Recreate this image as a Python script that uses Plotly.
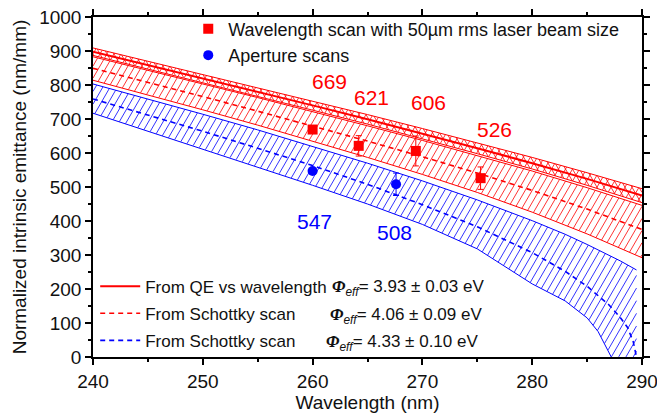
import numpy as np
import plotly.graph_objects as go

# ---------------- data ----------------
LAM_RED = [240, 245, 250, 255, 260, 265, 270, 275, 280, 285, 290]
RED_QE = [898, 859, 820, 780, 740, 699, 657, 614, 570, 524, 475]
RED_QE_HI = [909, 870, 831, 792, 753, 713, 672, 630, 587, 542, 495]
RED_QE_LO = [887, 847, 808, 767, 726, 685, 642, 598, 553, 505, 454]
RED_SCH = [849, 808, 766, 723, 680, 635, 589, 541, 490, 435, 375]
RED_SCH_HI = [883, 844, 803, 763, 722, 680, 637, 593, 547, 498, 446]
RED_SCH_LO = [814, 771, 727, 682, 635, 587, 537, 484, 426, 362, 292]

LAM_BLUE_C = [240, 245, 250, 255, 260, 265, 270, 275, 280, 283, 285, 287, 288, 288.7, 289.2, 289.5]
BLUE_SCH = [759, 712, 664, 614, 563, 508, 448, 383, 307, 252, 208, 153, 117, 86, 45, 0]
LAM_BLUE_HI = [240, 245, 250, 255, 260, 265, 270, 275, 280, 283, 285, 287, 288, 289, 289.5]
BLUE_SCH_HI = [803, 759, 714, 668, 620, 570, 518, 462, 401, 361, 331, 300, 283, 265, 256]
LAM_BLUE_LO = [240, 245, 250, 255, 260, 265, 270, 275, 280, 283, 285, 286, 287, 287.2]
BLUE_SCH_LO = [717, 664, 612, 559, 505, 450, 390, 318, 215, 165, 115, 75, 15, 0]

WL_SCAN_X = [260.0, 264.2, 269.4, 275.3]
WL_SCAN_Y = [669, 621, 606, 526]
WL_SCAN_ERR = [5, 30, 44, 33]
AP_SCAN_X = [260.0, 267.6]
AP_SCAN_Y = [547, 508]
AP_SCAN_ERR = [5, 33]

RED_LABELS = ["669", "621", "606", "526"]
RED_LABEL_X = [261.5, 265.4, 270.6, 276.6]
RED_LABEL_Y = [811, 763, 750, 668]
BLUE_LABELS = ["547", "508"]
BLUE_LABEL_X = [260.2, 267.5]
BLUE_LABEL_Y = [398, 366]

PHI_TEXT = ["= 3.93 ± 0.03 eV", "= 4.06 ± 0.09 eV", "= 4.33 ± 0.10 eV"]

X_TICKS = [240, 250, 260, 270, 280, 290]
Y_TICKS = [0, 100, 200, 300, 400, 500, 600, 700, 800, 900, 1000]

# ---------------- layout geometry ----------------
W, H = 657, 417
ML, MR, MT, MB = 93, 15, 17, 60
X0, X1 = 240, 290
Y0, Y1 = 0, 1000
PX_X = (W - ML - MR) / (X1 - X0)
PX_Y = (H - MT - MB) / (Y1 - Y0)

RED = "#ff0000"
BLUE = "#0000ff"
FONT = "Liberation Sans, Arial, Helvetica, sans-serif"


def hatch(lu, up, ll, lo, angle, spacing, lam_end):
    g = np.linspace(X0, lam_end, 4000)
    u = (g - X0) * PX_X
    vu = np.interp(g, lu, up) * PX_Y
    vl = np.interp(g, ll, lo) * PX_Y
    m = np.tan(np.radians(angle))
    step = abs(m) * spacing
    cmin = np.min(vl - m * u)
    cmax = np.max(vu - m * u)
    xs, ys = [], []
    for c in np.arange(np.floor(cmin / step) * step, cmax + step, step):
        v = m * u + c
        idx = np.nonzero((v >= vl) & (v <= vu))[0]
        if idx.size < 2:
            continue
        i0, i1 = idx[0], idx[-1]
        xs += [g[i0], g[i1], None]
        ys += [v[i0] / PX_Y, v[i1] / PX_Y, None]
    return xs, ys


fig = go.Figure()

HW = 0.8
# hatches
hx, hy = hatch(LAM_BLUE_HI, BLUE_SCH_HI, LAM_BLUE_LO, BLUE_SCH_LO, 60, 7.3, 289.5)
fig.add_trace(go.Scatter(x=hx, y=hy, mode="lines", line=dict(color=BLUE, width=HW),
                         showlegend=False, hoverinfo="skip"))
hx, hy = hatch(LAM_RED, RED_SCH_HI, LAM_RED, RED_SCH_LO, 60, 7.0, 290)
fig.add_trace(go.Scatter(x=hx, y=hy, mode="lines", line=dict(color=RED, width=HW),
                         showlegend=False, hoverinfo="skip"))
for ang in (60, -60):
    hx, hy = hatch(LAM_RED, RED_QE_HI, LAM_RED, RED_QE_LO, ang, 7.0, 290)
    fig.add_trace(go.Scatter(x=hx, y=hy, mode="lines", line=dict(color=RED, width=HW),
                             showlegend=False, hoverinfo="skip"))

# band edges
for lx, ly, col in [(LAM_BLUE_HI, BLUE_SCH_HI, BLUE), (LAM_BLUE_LO, BLUE_SCH_LO, BLUE),
                    (LAM_RED, RED_SCH_HI, RED), (LAM_RED, RED_SCH_LO, RED),
                    (LAM_RED, RED_QE_HI, RED), (LAM_RED, RED_QE_LO, RED)]:
    fig.add_trace(go.Scatter(x=lx, y=ly, mode="lines", line=dict(color=col, width=1),
                             showlegend=False, hoverinfo="skip"))

# central curves (legend 2)
fig.add_trace(go.Scatter(x=LAM_RED, y=RED_QE, mode="lines", line=dict(color=RED, width=2),
                         name="From QE vs wavelength", legend="legend2", legendgroup="a"))
fig.add_trace(go.Scatter(x=LAM_RED, y=RED_SCH, mode="lines",
                         line=dict(color=RED, width=1.6, dash="5px,4px"),
                         name="From Schottky scan", legend="legend2", legendgroup="b"))
fig.add_trace(go.Scatter(x=LAM_BLUE_C, y=BLUE_SCH, mode="lines",
                         line=dict(color=BLUE, width=1.6, dash="5px,4px"),
                         name="From Schottky scan ", legend="legend2", legendgroup="c"))

# measured points (legend 1)
fig.add_trace(go.Scatter(x=WL_SCAN_X, y=WL_SCAN_Y, mode="markers",
                         marker=dict(symbol="square", size=10, color=RED),
                         error_y=dict(type="data", array=WL_SCAN_ERR, color=RED, thickness=1, width=3),
                         name="Wavelength scan with 50µm rms laser beam size", legend="legend"))
fig.add_trace(go.Scatter(x=AP_SCAN_X, y=AP_SCAN_Y, mode="markers",
                         marker=dict(symbol="circle", size=10, color=BLUE),
                         error_y=dict(type="data", array=AP_SCAN_ERR, color=BLUE, thickness=1, width=3),
                         name="Aperture scans", legend="legend"))

annotations = []
for t, x, y in zip(RED_LABELS, RED_LABEL_X, RED_LABEL_Y):
    annotations.append(dict(x=x, y=y, text=t, showarrow=False, font=dict(size=21, color=RED, family=FONT)))
for t, x, y in zip(BLUE_LABELS, BLUE_LABEL_X, BLUE_LABEL_Y):
    annotations.append(dict(x=x, y=y, text=t, showarrow=False, font=dict(size=21, color=BLUE, family=FONT)))

phi_x = [0.431, 0.428, 0.420]
phi_y = [0.203, 0.121, 0.041]
for t, x, y in zip(PHI_TEXT, phi_x, phi_y):
    annotations.append(dict(
        xref="paper", yref="paper", x=x, y=y, xanchor="left", yanchor="middle",
        text="<span style='font-family:Liberation Serif'><b><i>Φ</i></b></span><sub><i>eff</i></sub>" + t,
        showarrow=False, font=dict(size=17, color="#111", family=FONT)))

axis_common = dict(showline=True, linewidth=1.5, linecolor="black", mirror="allticks",
                   ticks="outside", ticklen=6, tickwidth=1.5, tickcolor="black",
                   showgrid=False, zeroline=False, automargin=False, ticklabeloverflow="allow",
                   tickfont=dict(size=19, color="#111", family=FONT))

fig.update_layout(
    width=W, height=H,
    margin=dict(l=ML, r=MR, t=MT, b=MB, autoexpand=False),
    plot_bgcolor="white", paper_bgcolor="white",
    font=dict(family=FONT, color="#111"),
    xaxis=dict(range=[X0, X1], tickvals=X_TICKS,
               minor=dict(ticks="outside", ticklen=3.5, tickwidth=1.5, dtick=5, tickcolor="black"),
               title=dict(text="Wavelength (nm)", font=dict(size=19, family=FONT), standoff=4),
               **axis_common),
    yaxis=dict(range=[Y0, Y1], tickvals=Y_TICKS,
               minor=dict(ticks="outside", ticklen=3.5, tickwidth=1.5, dtick=50, tickcolor="black"),
               title=dict(text="Normalized intrinsic emittance (nm/mm)", font=dict(size=19, family=FONT), standoff=8),
               **axis_common),
    legend=dict(x=0.1735, y=1.019, xanchor="left", yanchor="top", bgcolor="rgba(0,0,0,0)",
                font=dict(size=18, family=FONT, color="#111"), tracegroupgap=0),
    legend2=dict(x=0.004, y=0.26, xanchor="left", yanchor="top", bgcolor="rgba(0,0,0,0)",
                 font=dict(size=17, family=FONT, color="#111"), traceorder="grouped",
                 tracegroupgap=2, itemwidth=40),
    annotations=annotations,
    showlegend=True,
)

fig.write_html("out.html")
